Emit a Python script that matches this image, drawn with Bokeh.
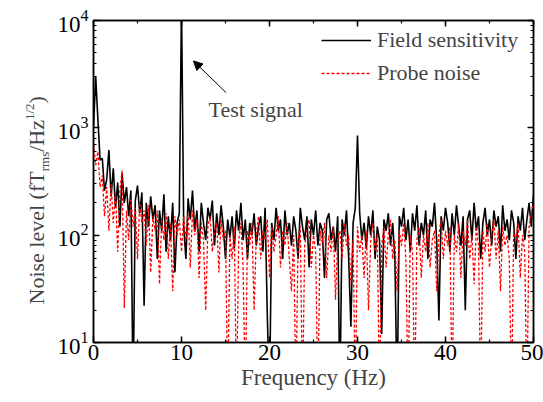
import math
from bokeh.plotting import figure
from bokeh.layouts import row
from bokeh.models import (LinearAxis, LogAxis, SingleIntervalTicker, FixedTicker,
                          CustomJSTickFormatter, Legend, LegendItem, Label, Arrow, NormalHead)
from bokeh.embed import file_html
from bokeh.resources import INLINE

# ---------------- data ----------------
freq_step = 0.25
field_sensitivity = [
    1000, 3000, 1200, 500, 520, 260, 330, 620, 230, 420, 180, 310, 120, 380, 200, 280, 150, 260, 3, 210,
    290, 160, 250, 22, 200, 120, 230, 140, 190, 60, 170, 110, 240, 70, 150, 90, 200, 45, 130, 160,
    15000, 120, 60, 220, 140, 260, 110, 170, 70, 200, 130, 90, 180, 140, 210, 80, 160, 100, 190, 120,
    60, 140, 95, 150, 75, 170, 110, 200, 90, 140, 60, 130, 100, 160, 80, 120, 150, 70, 180, 18,
    3, 130, 90, 180, 110, 140, 60, 170, 100, 130, 80, 150, 110, 60, 180, 120, 90, 150, 50, 140,
    100, 170, 80, 130, 110, 40, 140, 160, 90, 120, 70, 150, 3, 140, 100, 170, 60, 14, 130, 180,
    850, 160, 90, 130, 75, 150, 100, 170, 60, 120, 90, 12, 140, 110, 160, 80, 130, 60, 3, 150,
    120, 180, 90, 140, 70, 160, 110, 190, 80, 130, 100, 170, 60, 140, 120, 200, 90, 16, 150, 110,
    180, 130, 70, 160, 100, 190, 120, 80, 150, 20, 140, 170, 90, 200, 110, 150, 60, 130, 180, 100,
    140, 80, 170, 120, 150, 70, 190, 110, 140, 90, 170, 130, 60, 150, 110, 180, 90, 140, 200, 120,
    240,
]
probe_noise = [
    700, 450, 600, 280, 360, 150, 280, 110, 300, 130, 250, 70, 260, 400, 21, 170, 90, 220, 120, 180,
    60, 200, 130, 170, 80, 190, 45, 150, 110, 170, 35, 140, 90, 160, 60, 130, 30, 150, 100, 140,
    70, 150, 90, 160, 50, 170, 100, 140, 40, 130, 90, 20, 120, 150, 70, 110, 130, 45, 140, 90,
    110, 3, 100, 60, 120, 3, 90, 130, 50, 3, 110, 80, 130, 20, 100, 150, 60, 110, 90, 140,
    40, 120, 70, 100, 150, 50, 110, 80, 130, 60, 30, 100, 3, 90, 120, 3, 80, 110, 140, 50,
    100, 70, 3, 110, 85, 130, 40, 100, 70, 120, 25, 90, 110, 60, 130, 80, 100, 35, 90, 3,
    120, 70, 100, 40, 110, 20, 90, 130, 70, 100, 3, 80, 120, 50, 100, 140, 60, 90, 30, 110,
    80, 130, 60, 3, 100, 70, 3, 90, 120, 40, 100, 70, 130, 50, 90, 110, 30, 100, 140, 60,
    110, 80, 120, 3, 100, 70, 130, 40, 110, 80, 140, 60, 100, 35, 120, 80, 3, 110, 70, 130,
    50, 100, 140, 60, 110, 30, 120, 80, 100, 60, 3, 110, 90, 130, 40, 100, 70, 3, 120, 160,
    200,
]
freq = [i * freq_step for i in range(len(field_sensitivity))]

y_major_ticks = [10, 100, 1000, 10000]
y_minor_ticks = [m * 10 ** k for k in range(1, 4) for m in range(2, 10)]

legend_labels = ["Field sensitivity", "Probe noise"]
annotation_text = "Test signal"
x_label = "Frequency (Hz)"
y_label_parts = ["Noise level (fT", "rms", "/Hz", "1/2", ")"]

FONT = "Liberation Serif"
LABEL_W = 50
TOTAL_W, TOTAL_H = 543, 402
BORDER_TOP, BORDER_BOTTOM = 20, 60

# ---------- strip holding the rotated y-axis title ----------
# its frame is aligned with the main frame; the range maps 1 unit = 1 pixel (y measured up from page bottom)
lab = figure(width=LABEL_W, height=TOTAL_H, x_range=(0, LABEL_W),
             y_range=(BORDER_BOTTOM, TOTAL_H - BORDER_TOP),
             output_backend="svg", toolbar_location=None,
             x_axis_location=None, y_axis_location=None,
             min_border_left=0, min_border_right=0,
             min_border_top=BORDER_TOP, min_border_bottom=BORDER_BOTTOM)
lab.grid.visible = False
lab.outline_line_color = None
lab.background_fill_color = "white"
lab.border_fill_color = "white"

# (font size, baseline offset, advance width) for each part
part_style = [(22, 0.0, 133.2), (13, 7.5, 19.5), (22, 0.0, 31.8), (13, -7.5, 16.6), (22, 0.0, 7.3)]
base_x = 36
pos = TOTAL_H - 304
for txt, (size, dx, w) in zip(y_label_parts, part_style):
    lab.add_layout(Label(x=base_x + dx, y=pos, text=txt, angle=math.pi / 2, text_font=FONT,
                         text_font_size=f"{size}px", text_baseline="alphabetic",
                         text_align="left"))
    pos += w

# ---------- main plot ----------
p = figure(width=TOTAL_W - LABEL_W, height=TOTAL_H, y_axis_type="log",
           x_range=(0, 50), y_range=(10, 10000),
           output_backend="svg", toolbar_location=None,
           min_border_left=93 - LABEL_W, min_border_right=10,
           min_border_top=BORDER_TOP, min_border_bottom=BORDER_BOTTOM)
p.background_fill_color = "white"
p.border_fill_color = "white"
p.xgrid.visible = False
p.ygrid.visible = False
p.outline_line_color = "black"
p.outline_line_width = 1.5

black = p.line(freq, field_sensitivity, line_color="black", line_width=1.6)
red = p.line(freq, probe_noise, line_color="#ff0000", line_width=1.3, line_dash="3 2")

def style(ax):
    ax.axis_line_color = "black"
    ax.axis_line_width = 1.5
    ax.major_tick_in = 6
    ax.major_tick_out = 0
    ax.minor_tick_in = 3
    ax.minor_tick_out = 0
    ax.major_tick_line_width = 1.5
    ax.minor_tick_line_width = 1.2
    ax.major_label_text_font = FONT
    ax.major_label_text_font_size = "23px"
    ax.major_label_text_color = "black"

xa = p.xaxis[0]
xa.ticker = SingleIntervalTicker(interval=10, num_minor_ticks=2)
style(xa)
xa.major_label_standoff = 2
xa.axis_label = x_label
xa.axis_label_text_font = FONT
xa.axis_label_text_font_size = "23px"
xa.axis_label_text_font_style = "normal"
xa.axis_label_standoff = 2

ya = p.yaxis[0]
ya.ticker = FixedTicker(ticks=y_major_ticks, minor_ticks=y_minor_ticks)
style(ya)
ya.major_label_standoff = 5

blank = CustomJSTickFormatter(code="return ''")
top = LinearAxis(ticker=SingleIntervalTicker(interval=10, num_minor_ticks=2), formatter=blank)
style(top)
top.major_label_text_font_size = "0px"
top.major_label_standoff = 0
p.add_layout(top, "above")
right = LogAxis(ticker=FixedTicker(ticks=y_major_ticks, minor_ticks=y_minor_ticks), formatter=blank)
style(right)
right.major_label_text_font_size = "0px"
right.major_label_standoff = 0
p.add_layout(right, "right")

legend = Legend(items=[LegendItem(label=legend_labels[0], renderers=[black]),
                       LegendItem(label=legend_labels[1], renderers=[red])],
                location=(228, 256), glyph_width=50, glyph_height=20, label_height=20,
                label_standoff=6, spacing=7, padding=0, margin=0,
                border_line_color=None, background_fill_alpha=0,
                label_text_font=FONT, label_text_font_size="22px")
p.add_layout(legend)

p.add_layout(Arrow(end=NormalHead(size=9, fill_color="black", line_color="black"),
                   x_start=15.08, y_start=2124, x_end=11.36, y_end=4198,
                   line_color="black", line_width=1))
p.add_layout(Label(x=13.07, y=1496, text=annotation_text, text_font=FONT,
                   text_font_size="22px", text_baseline="middle", text_align="left"))

layout = row(lab, p)
open("out.html", "w").write(file_html(layout, INLINE))
